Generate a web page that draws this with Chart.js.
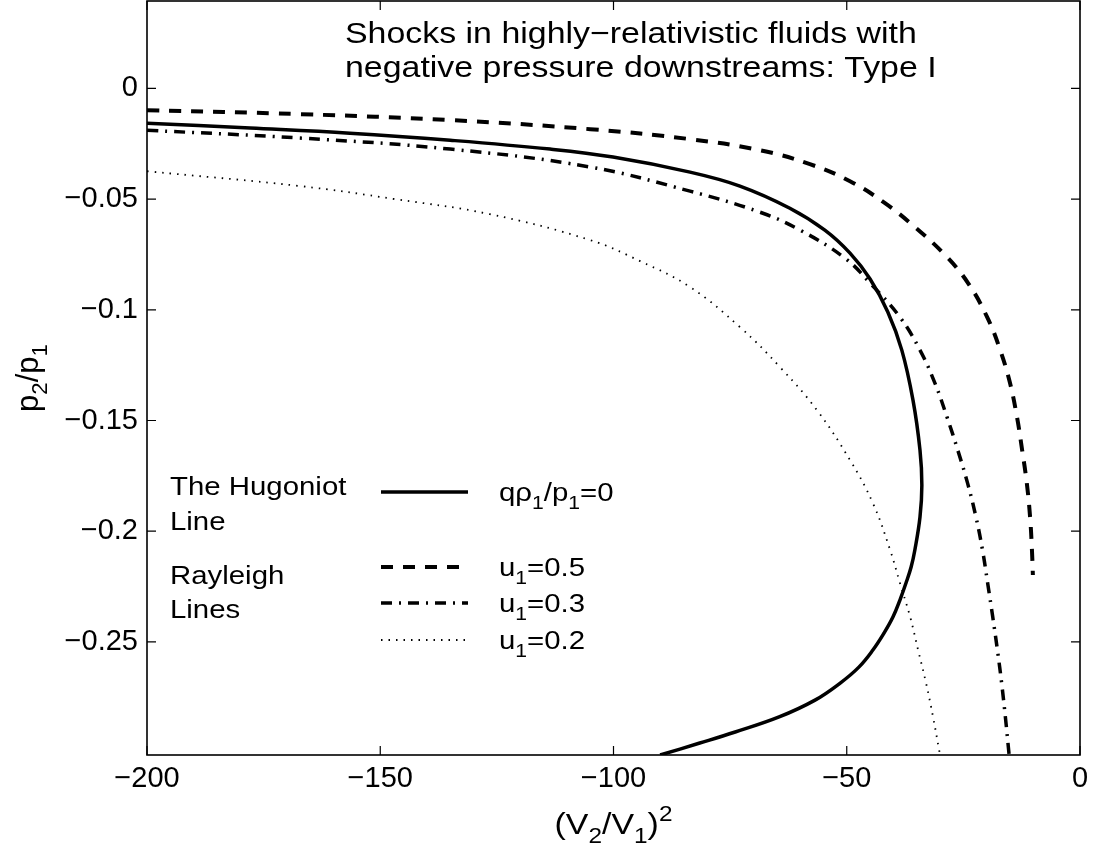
<!DOCTYPE html>
<html>
<head>
<meta charset="utf-8">
<script src="https://cdn.jsdelivr.net/npm/chart.js@4.4.1/dist/chart.umd.min.js"></script>
<style>
html,body{margin:0;padding:0;background:#fff;}
canvas{display:block;}
</style>
</head>
<body>
<canvas id="c" width="1094" height="856" style="width:1094px;height:856px"></canvas>
<script>
// ---- tick labels / axes ----
const xTickValues = [-200, -150, -100, -50, 0];
const yTickValues = [0, -0.05, -0.1, -0.15, -0.2, -0.25];

// ---- The Hugoniot line (q rho1/p1 = 0) ----
const hugX = [-200, -177.9, -156.5, -135.0, -113.6, -100.1, -83.6, -72.9, -62.2, -54.7, -49.3, -45.0, -41.2, -38.2, -35.8, -34.3, -33.9, -34.3, -35.4, -36.2, -37.3, -38.6, -40.1, -42.0, -44.4, -47.4, -51.4, -56.8, -64.5, -73.9, -81.5, -90.0];
const hugY = [-0.0157, -0.0179, -0.0202, -0.0234, -0.0274, -0.0310, -0.0378, -0.0441, -0.0541, -0.0640, -0.0744, -0.0861, -0.1010, -0.1182, -0.1408, -0.1634, -0.1792, -0.1936, -0.2085, -0.2162, -0.2234, -0.2311, -0.2388, -0.2460, -0.2537, -0.2614, -0.2686, -0.2763, -0.2839, -0.2907, -0.2957, -0.3011];

// ---- Rayleigh line u1 = 0.5 ----
const u05X = [-200, -167.2, -135.0, -105.0, -83.6, -68.6, -57.9, -49.3, -41.8, -35.4, -28.9, -24.0, -19.9, -17.1, -15.0, -13.5, -12.4, -11.4, -10.7, -10.3, -10.1];
const u05Y = [-0.0098, -0.0116, -0.0143, -0.0184, -0.0229, -0.0279, -0.0342, -0.0419, -0.0518, -0.0626, -0.0753, -0.0879, -0.1033, -0.1182, -0.1331, -0.1485, -0.1634, -0.1783, -0.1936, -0.2085, -0.2198];

// ---- Rayleigh line u1 = 0.3 ----
const u03X = [-200, -167.2, -135.0, -105.0, -83.6, -68.6, -60.0, -50.4, -45.0, -38.6, -34.3, -31.1, -28.5, -26.2, -24.1, -22.3, -20.9, -19.8, -18.7, -17.7, -16.8, -16.0, -15.3, -15.2];
const u03Y = [-0.0189, -0.0224, -0.0274, -0.0355, -0.0464, -0.0559, -0.0640, -0.0766, -0.0879, -0.1033, -0.1182, -0.1331, -0.1485, -0.1634, -0.1783, -0.1936, -0.2085, -0.2234, -0.2388, -0.2537, -0.2686, -0.2839, -0.2988, -0.3011];

// ---- Rayleigh line u1 = 0.2 ----
const u02X = [-200, -167.2, -146.8, -126.5, -105.0, -94.3, -83.6, -72.9, -64.3, -56.4, -49.3, -44.4, -40.7, -38.6, -36.4, -34.7, -33.0, -31.5, -30.2, -30.0];
const u02Y = [-0.0374, -0.0441, -0.0500, -0.0568, -0.0685, -0.0780, -0.0897, -0.1078, -0.1259, -0.1453, -0.1679, -0.1873, -0.2085, -0.2234, -0.2388, -0.2537, -0.2686, -0.2839, -0.2988, -0.3011];

// ---- texts ----
const titleLines = ['Shocks in highly\u2212relativistic fluids with', 'negative pressure downstreams: Type I'];
const seriesLabels = ['q\u03c1_{1}/p_{1}=0', 'u_{1}=0.5', 'u_{1}=0.3', 'u_{1}=0.2'];
const groupLabels = [['The Hugoniot', 'Line'], ['Rayleigh', 'Lines']];
const xTitle = '(V_{2}/V_{1})^{2}';
const yTitle = 'p_{2}/p_{1}';

const FONT = '"Liberation Sans", Arial, Helvetica, sans-serif';
const SX = 1.13;

function toPoints(xs, ys) { return xs.map((x, i) => ({ x: x, y: ys[i] })); }

function parseRich(str) {
  const parts = str.split(/(_\{[^}]*\}|\^\{[^}]*\})/).filter(s => s.length);
  return parts.map(p => {
    if (p.startsWith('_{')) return { t: p.slice(2, -1), s: 'sub' };
    if (p.startsWith('^{')) return { t: p.slice(2, -1), s: 'sup' };
    return { t: p, s: '' };
  });
}

function drawRich(ctx, str, x, y, size, opts) {
  opts = opts || {};
  const runs = parseRich(str);
  ctx.save();
  ctx.translate(x, y);
  if (opts.rotate) ctx.rotate(opts.rotate);
  ctx.scale(opts.sx || 1, 1);
  ctx.fillStyle = '#000';
  ctx.textBaseline = 'alphabetic';
  ctx.textAlign = 'left';
  let w = 0;
  runs.forEach(r => {
    ctx.font = (r.s ? size * 0.72 : size) + 'px ' + FONT;
    w += ctx.measureText(r.t).width;
  });
  let cx = opts.align === 'center' ? -w / 2 : 0;
  runs.forEach(r => {
    const s = r.s ? size * 0.72 : size;
    ctx.font = s + 'px ' + FONT;
    const dy = r.s === 'sub' ? size * 0.3 : (r.s === 'sup' ? -size * 0.42 : 0);
    ctx.fillText(r.t, cx, dy);
    cx += ctx.measureText(r.t).width;
  });
  ctx.restore();
}

const decorPlugin = {
  id: 'decor',
  afterDraw(chart) {
    const ctx = chart.ctx;
    const a = chart.chartArea;
    const xs = chart.scales.x, ys = chart.scales.y;
    ctx.save();
    // frame
    ctx.strokeStyle = '#000';
    ctx.lineWidth = 1.6;
    ctx.setLineDash([]);
    ctx.strokeRect(a.left, a.top, a.right - a.left, a.bottom - a.top);
    // inward ticks
    ctx.lineWidth = 1.2;
    const TL = 9;
    ctx.beginPath();
    xTickValues.forEach(v => {
      const px = xs.getPixelForValue(v);
      ctx.moveTo(px, a.bottom); ctx.lineTo(px, a.bottom - TL);
      ctx.moveTo(px, a.top); ctx.lineTo(px, a.top + TL);
    });
    yTickValues.forEach(v => {
      const py = ys.getPixelForValue(v);
      ctx.moveTo(a.left, py); ctx.lineTo(a.left + TL, py);
      ctx.moveTo(a.right, py); ctx.lineTo(a.right - TL, py);
    });
    ctx.stroke();

    // title
    drawRich(ctx, titleLines[0], a.left + 198, a.top + 42, 30, { sx: SX });
    drawRich(ctx, titleLines[1], a.left + 198, a.top + 76, 30, { sx: SX });

    // legend
    const lx0 = a.left + 234, lx1 = a.left + 321, tx = a.left + 352;
    const rows = [492, 567, 603, 640];
    chart.data.datasets.forEach((ds, i) => {
      ctx.save();
      ctx.strokeStyle = ds.borderColor;
      ctx.lineWidth = ds.borderWidth;
      ctx.setLineDash(ds.borderDash || []);
      ctx.beginPath();
      ctx.moveTo(lx0, rows[i]); ctx.lineTo(lx1, rows[i]);
      ctx.stroke();
      ctx.restore();
      drawRich(ctx, seriesLabels[i], tx, rows[i] + 9, 26, { sx: SX });
    });
    drawRich(ctx, groupLabels[0][0], a.left + 23, 495, 26, { sx: SX });
    drawRich(ctx, groupLabels[0][1], a.left + 23, 530, 26, { sx: SX });
    drawRich(ctx, groupLabels[1][0], a.left + 23, 584, 26, { sx: SX });
    drawRich(ctx, groupLabels[1][1], a.left + 23, 618, 26, { sx: SX });

    // axis titles
    drawRich(ctx, xTitle, (a.left + a.right) / 2, 834, 30, { sx: SX, align: 'center' });
    drawRich(ctx, yTitle, 38, (a.top + a.bottom) / 2, 31, { rotate: -Math.PI / 2, align: 'center' });
    ctx.restore();
  }
};

function fmt(v) {
  if (Math.abs(v) < 1e-12) return '0';
  const s = String(Math.abs(Math.round(v * 1000) / 1000));
  return v < 0 ? '\u2212' + s : s;
}

new Chart(document.getElementById('c'), {
  type: 'scatter',
  data: {
    datasets: [
      { label: 'Hugoniot', data: toPoints(hugX, hugY), showLine: true, borderColor: '#000', borderWidth: 3.5, borderDash: [], pointRadius: 0, tension: 0.4, fill: false },
      { label: 'u1=0.5', data: toPoints(u05X, u05Y), showLine: true, borderColor: '#000', borderWidth: 4, borderDash: [12, 10], pointRadius: 0, tension: 0.4, fill: false },
      { label: 'u1=0.3', data: toPoints(u03X, u03Y), showLine: true, borderColor: '#000', borderWidth: 3.5, borderDash: [11, 7, 2, 7], pointRadius: 0, tension: 0.4, fill: false },
      { label: 'u1=0.2', data: toPoints(u02X, u02Y), showLine: true, borderColor: '#000', borderWidth: 1.8, borderDash: [1.5, 6], pointRadius: 0, tension: 0.4, fill: false }
    ]
  },
  options: {
    responsive: false,
    animation: false,
    devicePixelRatio: 1,
    layout: { padding: { left: 0, right: 14, top: 1, bottom: 0 } },
    plugins: { legend: { display: false }, tooltip: { enabled: false }, title: { display: false } },
    scales: {
      x: {
        type: 'linear', min: -200, max: 0,
        afterBuildTicks: s => { s.ticks = xTickValues.map(v => ({ value: v })); },
        afterFit: s => { s.height = 101; s.paddingLeft = 0; s.paddingRight = 0; },
        grid: { display: false, drawTicks: false },
        border: { display: false },
        ticks: { color: '#000', padding: 7, maxRotation: 0, autoSkip: false, font: { family: FONT, size: 29 }, callback: v => fmt(v) }
      },
      y: {
        type: 'linear', min: -0.3011, max: 0.0395,
        afterBuildTicks: s => { s.ticks = yTickValues.map(v => ({ value: v })); },
        afterFit: s => { s.width = 147; s.paddingTop = 0; s.paddingBottom = 0; },
        grid: { display: false, drawTicks: false },
        border: { display: false },
        ticks: { color: '#000', padding: 9, autoSkip: false, font: { family: FONT, size: 29 }, callback: v => fmt(v) }
      }
    }
  },
  plugins: [decorPlugin]
});
</script>
</body>
</html>
